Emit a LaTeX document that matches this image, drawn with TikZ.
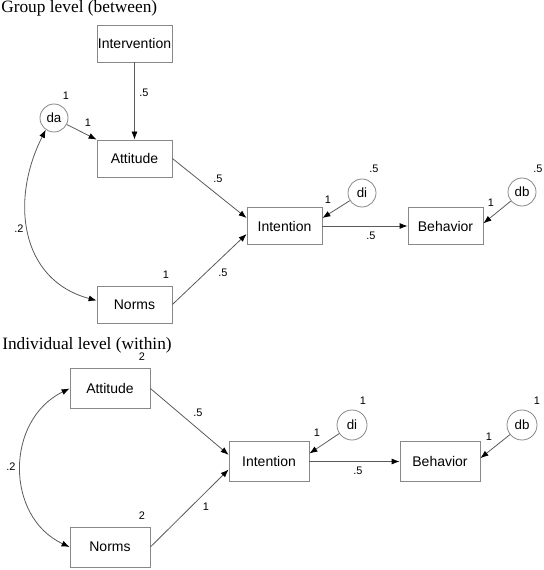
\documentclass[tikz,border=0pt]{standalone}
\usepackage{fontspec}
\setmainfont{Liberation Serif}
\newfontfamily\arialf{Liberation Sans}
\usetikzlibrary{arrows.meta,calc}
\definecolor{lnc}{HTML}{5A5A5A}
\definecolor{bxc}{HTML}{888888}
\tikzset{
  box/.style={draw=bxc, line width=0.6pt, fill=white, inner sep=0pt, font=\arialf\fontsize{10.5}{12}\selectfont},
  boxA/.style={box, minimum width=56.25pt, minimum height=27.75pt},
  boxB/.style={box, minimum width=60pt, minimum height=30pt},
  err/.style={draw=bxc, line width=0.6pt, circle, fill=white, inner sep=0pt, font=\arialf\fontsize{10}{12}\selectfont},
  errA/.style={err, minimum size=21pt},
  errB/.style={err, minimum size=22.5pt},
  lab/.style={inner sep=0pt, font=\arialf\fontsize{8.2}{10}\selectfont},
  ttl/.style={inner sep=0pt, anchor=base west, font=\fontsize{13}{15}\selectfont},
  path/.style={draw=lnc, line width=0.6pt, -{Latex[length=6pt,width=4.5pt,color=black]}},
  cov/.style={draw=lnc, line width=0.6pt, {Latex[length=6pt,width=4.5pt,color=black]}-{Latex[length=6pt,width=4.5pt,color=black]}}
}
\begin{document}
\begin{tikzpicture}[x=0.75pt,y=-0.75pt]
\useasboundingbox (0,0) rectangle (543,570);
% ---------- Group level ----------
\node[ttl] (t1) at (1,13) {Group level (between)};
\node[boxA] (iv1) at (134.5,43.5) {Intervention};
\node[boxA] (at1) at (134.5,158.5) {Attitude};
\node[boxA] (no1) at (134.5,304.5) {Norms};
\node[boxA] (in1) at (284.5,226) {Intention};
\node[boxA] (be1) at (445.5,226) {Behavior};
\node[errA] (da1) at (54,118) {da};
\node[errA] (di1) at (362,193) {di};
\node[errA] (db1) at (522,192) {db};

\draw[path] (iv1) -- (at1);
\draw[path] (da1) -- (at1.north west);
\draw[path] (at1.east) -- ([yshift=6pt]in1.west);
\draw[path] (no1.east) -- ([yshift=-6pt]in1.west);
\draw[path] (in1) -- (be1);
\draw[path] (di1) -- ([yshift=6pt]in1.east);
\draw[path] (db1) -- ([yshift=2pt]be1.east);
\draw[cov] (da1.235) .. controls (10,200) and (20,280) .. ([yshift=3pt]no1.west);

\node[lab] (l1) at (144,93) {.5};
\node[lab] (l2) at (66,96) {1};
\node[lab] (l3) at (88,123) {1};
\node[lab] (l4) at (19,229) {.2};
\node[lab] (l5) at (218,179) {.5};
\node[lab] (l6) at (166,275) {1};
\node[lab] (l7) at (223,273) {.5};
\node[lab] (l8) at (374,169) {.5};
\node[lab] (l9) at (328,200) {1};
\node[lab] (l10) at (371,236) {.5};
\node[lab] (l11) at (538,169) {.5};
\node[lab] (l12) at (491,203) {1};

% ---------- Individual level ----------
\node[ttl] (t2) at (2,349) {Individual level (within)};
\node[boxB] (at2) at (110,388.5) {Attitude};
\node[boxB] (no2) at (110,547) {Norms};
\node[boxB] (in2) at (269,461.5) {Intention};
\node[boxB] (be2) at (440,461.5) {Behavior};
\node[errB] (di2) at (352,425) {di};
\node[errB] (db2) at (522,425) {db};

\draw[path] (at2.east) -- ([yshift=5pt]in2.west);
\draw[path] (no2.east) -- ([yshift=-6pt]in2.west);
\draw[path] (in2) -- (be2);
\draw[path] (di2) -- ([yshift=6pt]in2.east);
\draw[path] (db2) -- ([yshift=2.5pt]be2.east);
\draw[cov] (at2.west) .. controls (5,420) and (5,517) .. (no2.west);

\node[lab] (m1) at (142,357) {2};
\node[lab] (m2) at (198,413) {.5};
\node[lab] (m3) at (11,467) {.2};
\node[lab] (m4) at (142,516) {2};
\node[lab] (m5) at (206,507) {1};
\node[lab] (m6) at (363,401) {1};
\node[lab] (m7) at (317,433) {1};
\node[lab] (m8) at (358,471) {.5};
\node[lab] (m9) at (537,401) {1};
\node[lab] (m10) at (489,437) {1};
\end{tikzpicture}
\end{document}
